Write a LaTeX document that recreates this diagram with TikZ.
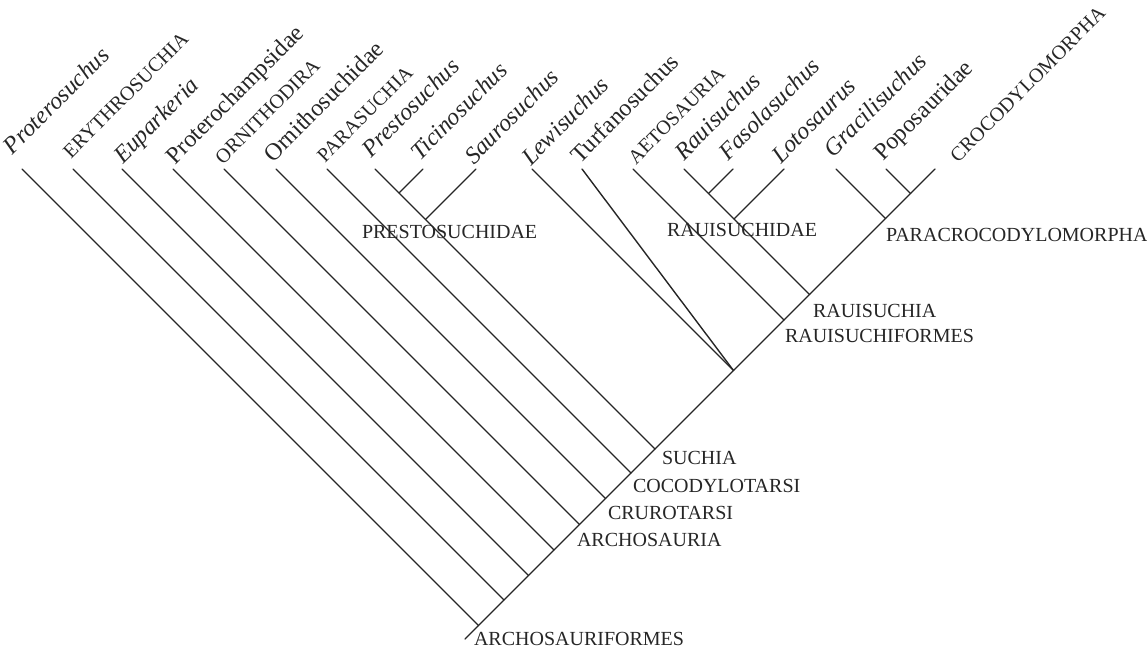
\documentclass[tikz,border=0pt]{standalone}
\usepackage{fontspec}
\setmainfont{Liberation Serif}
\begin{document}
\begin{tikzpicture}[x=0.5pt, y=-0.5pt,
  branch/.style={line width=0.7pt, black!85, line cap=round},
  taxon/.style={rotate=45, anchor=base west, inner sep=0pt, outer sep=0pt, text=black!85, font=\fontsize{12}{14}\selectfont},
  group/.style={taxon, font=\fontsize{10}{12}\selectfont},
  clade/.style={anchor=base west, inner sep=0pt, outer sep=0pt, text=black!85, font=\fontsize{10}{12}\selectfont}]
  \useasboundingbox (0,0) rectangle (1147,648);

  % tips of the branches
  \coordinate (tProt) at (22,169);
  \coordinate (tEryt) at (73,169);
  \coordinate (tEupa) at (122,169);
  \coordinate (tProc) at (173,169);
  \coordinate (tOrnd) at (224,169);
  \coordinate (tOrns) at (276,169);
  \coordinate (tPara) at (327,169);
  \coordinate (tPres) at (375,169);
  \coordinate (tTici) at (423,169);
  \coordinate (tSaur) at (476,169);
  \coordinate (tLewi) at (532,169);
  \coordinate (tTurf) at (582,169);
  \coordinate (tAeto) at (633,169);
  \coordinate (tRaui) at (684,169);
  \coordinate (tFaso) at (733,169);
  \coordinate (tLoto) at (784,169);
  \coordinate (tGrac) at (836,169);
  \coordinate (tPopo) at (886,169);
  \coordinate (tCroc) at (935,169);

  % junctions on the main stem
  \coordinate (root) at (465,639);
  \coordinate (jProt) at (478.5,625.5);
  \coordinate (jEryt) at (504,600);
  \coordinate (jEupa) at (528.5,575.5);
  \coordinate (jProc) at (554,550);
  \coordinate (jOrnd) at (579.5,524.5);
  \coordinate (jOrns) at (605.5,498.5);
  \coordinate (jPara) at (631,473);
  \coordinate (jPres) at (655,449);
  \coordinate (jLewi) at (733.5,370.5);
  \coordinate (jAeto) at (784,320);
  \coordinate (jRaui) at (809.5,294.5);
  \coordinate (jGrac) at (885.5,218.5);
  \coordinate (jPopo) at (910.5,193.5);

  % junctions inside the two families
  \coordinate (jTici) at (399,193);
  \coordinate (jSaur) at (425.5,219.5);
  \coordinate (jFaso) at (708.5,193.5);
  \coordinate (jLoto) at (734,219);

  % branches
  \draw[branch] (root) -- (tCroc);
  \draw[branch] (tProt) -- (jProt);
  \draw[branch] (tEryt) -- (jEryt);
  \draw[branch] (tEupa) -- (jEupa);
  \draw[branch] (tProc) -- (jProc);
  \draw[branch] (tOrnd) -- (jOrnd);
  \draw[branch] (tOrns) -- (jOrns);
  \draw[branch] (tPara) -- (jPara);
  \draw[branch] (tPres) -- (jPres);
  \draw[branch] (tTici) -- (jTici);
  \draw[branch] (tSaur) -- (jSaur);
  \draw[branch] (tLewi) -- (jLewi);
  \draw[branch] (tTurf) -- (jLewi);
  \draw[branch] (tAeto) -- (jAeto);
  \draw[branch] (tRaui) -- (jRaui);
  \draw[branch] (tFaso) -- (jFaso);
  \draw[branch] (tLoto) -- (jLoto);
  \draw[branch] (tGrac) -- (jGrac);
  \draw[branch] (tPopo) -- (jPopo);

  % taxon names
  \node[taxon] (nProt) at (13,155) {\itshape Proterosuchus};
  \node[group] (nEryt) at (71,159) {ERYTHROSUCHIA};
  \node[taxon] (nEupa) at (123,164) {\itshape Euparkeria};
  \node[taxon] (nProc) at (175,165) {Proterochampsidae};
  \node[group] (nOrnd) at (223,165) {ORNITHODIRA};
  \node[taxon] (nOrns) at (273,163) {Ornithosuchidae};
  \node[group] (nPara) at (325,163) {PARASUCHIA};
  \node[taxon] (nPres) at (371,158) {\itshape Prestosuchus};
  \node[taxon] (nTici) at (420,161) {\itshape Ticinosuchus};
  \node[taxon] (nSaur) at (474,165) {\itshape Saurosuchus};
  \node[taxon] (nLewi) at (531,166) {\itshape Lewisuchus};
  \node[taxon] (nTurf) at (580,164) {Turfanosuchus};
  \node[group] (nAeto) at (636,165) {AETOSAURIA};
  \node[taxon] (nRaui) at (684,161) {\itshape Rauisuchus};
  \node[taxon] (nFaso) at (728,161) {\itshape Fasolasuchus};
  \node[taxon] (nLoto) at (781,164) {\itshape Lotosaurus};
  \node[taxon] (nGrac) at (833,158) {\itshape Gracilisuchus};
  \node[taxon] (nPopo) at (883,161) {Poposauridae};
  \node[group] (nCroc) at (958,163) {CROCODYLOMORPHA};

  % clade names
  \node[clade] (cPres) at (362,238) {PRESTOSUCHIDAE};
  \node[clade] (cRaui) at (667,236) {RAUISUCHIDAE};
  \node[clade] (cParc) at (886,241) {PARACROCODYLOMORPHA};
  \node[clade] (cRaus) at (813,317) {RAUISUCHIA};
  \node[clade] (cRauf) at (785,342) {RAUISUCHIFORMES};
  \node[clade] (cSuch) at (662,464) {SUCHIA};
  \node[clade] (cCoco) at (633,492) {COCODYLOTARSI};
  \node[clade] (cCrur) at (608,519) {CRUROTARSI};
  \node[clade] (cArch) at (577,546) {ARCHOSAURIA};
  \node[clade] (cArcf) at (474,645) {ARCHOSAURIFORMES};
\end{tikzpicture}
\end{document}
